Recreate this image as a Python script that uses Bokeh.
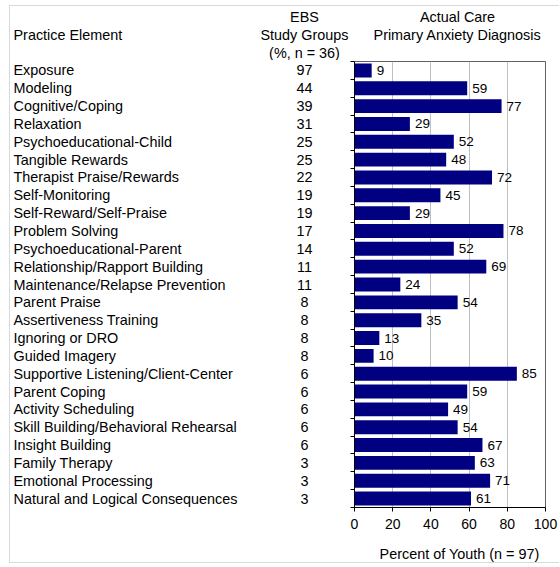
from bokeh.plotting import figure
from bokeh.models import ColumnDataSource, Range1d, FixedTicker
from bokeh.layouts import column, row
from bokeh.embed import file_html
from bokeh.resources import INLINE
from bokeh.core.properties import value

elements = [
    "Exposure", "Modeling", "Cognitive/Coping", "Relaxation",
    "Psychoeducational-Child", "Tangible Rewards", "Therapist Praise/Rewards",
    "Self-Monitoring", "Self-Reward/Self-Praise", "Problem Solving",
    "Psychoeducational-Parent", "Relationship/Rapport Building",
    "Maintenance/Relapse Prevention", "Parent Praise", "Assertiveness Training",
    "Ignoring or DRO", "Guided Imagery", "Supportive Listening/Client-Center",
    "Parent Coping", "Activity Scheduling", "Skill Building/Behavioral Rehearsal",
    "Insight Building", "Family Therapy", "Emotional Processing",
    "Natural and Logical Consequences",
]
ebs_pct = [97, 44, 39, 31, 25, 25, 22, 19, 19, 17, 14, 11, 11, 8, 8, 8, 8,
           6, 6, 6, 6, 6, 3, 3, 3]
actual_pct = [9, 59, 77, 29, 52, 48, 72, 45, 29, 78, 52, 69, 24, 54, 35, 13, 10,
              85, 59, 49, 54, 67, 63, 71, 61]
x_ticks = [0, 20, 40, 60, 80, 100]

FONT = "Liberation Sans"
FS = "14.4px"
n = len(elements)
rows = list(range(n))

src = ColumnDataSource(dict(
    row=rows,
    element=elements,
    ebs=[str(v) for v in ebs_pct],
    actual=actual_pct,
    actual_lbl=[str(v) for v in actual_pct],
))

y_rng = Range1d(n - 0.5, -0.5)


def blank(fig):
    fig.grid.grid_line_color = None
    fig.outline_line_color = None
    fig.background_fill_color = "#ffffff"
    fig.border_fill_color = "#ffffff"
    return fig


# ---- header ----
hdr = blank(figure(width=549, height=54, output_backend="svg", toolbar_location=None,
                   title=None, x_range=Range1d(0, 549), y_range=Range1d(54, 0),
                   x_axis_type=None, y_axis_type=None,
                   min_border_left=0, min_border_right=0, min_border_top=0,
                   min_border_bottom=0))
hdr_src = ColumnDataSource(dict(
    x=[3, 294, 294, 294, 447, 447],
    y=[28, 10, 28, 46, 10, 28],
    t=["Practice Element", "EBS", "Study Groups", "(%, n = 36)",
       "Actual Care", "Primary Anxiety Diagnosis"],
    a=["left", "center", "center", "center", "center", "center"],
))
hdr.text(x="x", y="y", text="t", text_align="a", source=hdr_src,
         text_baseline="middle", text_font=value(FONT), text_font_size=FS,
         text_color="#000000")

# ---- table (left) ----
tbl = blank(figure(width=334, height=480, output_backend="svg", toolbar_location=None,
                   title=None, x_range=Range1d(0, 334), y_range=y_rng,
                   x_axis_type=None, y_axis_type=None,
                   min_border_left=0, min_border_right=0, min_border_top=1,
                   min_border_bottom=33))
tbl.text(x=3, y="row", text="element", source=src, text_align="left",
         text_baseline="middle", text_font=value(FONT), text_font_size=FS,
         text_color="#000000")
tbl.text(x=294, y="row", text="ebs", source=src, text_align="center",
         text_baseline="middle", text_font=value(FONT), text_font_size=FS,
         text_color="#000000")

# ---- bars ----
p = figure(width=215, height=480, output_backend="svg", toolbar_location=None,
           title=None, x_range=Range1d(0, 100), y_range=y_rng,
           min_border_left=10, min_border_right=14, min_border_top=1,
           min_border_bottom=33)
p.hbar(y="row", right="actual", left=0, height=0.78, source=src,
       fill_color="#000080", line_color=None)
p.text(x="actual", y="row", text="actual_lbl", source=src, x_offset=5,
       text_baseline="middle", text_align="left",
       text_font=value(FONT), text_font_size="13.5px", text_color="#000000")

p.xaxis.ticker = FixedTicker(ticks=x_ticks)
p.xaxis.major_label_text_font = FONT
p.xaxis.major_label_text_font_size = "14px"
p.xaxis.major_label_text_color = "#000000"
p.xaxis.major_label_standoff = 7
p.xaxis.axis_line_color = "#000000"
p.xaxis.major_tick_line_color = "#000000"
p.xaxis.major_tick_out = 4
p.xaxis.major_tick_in = 0
p.xaxis.minor_tick_line_color = None

y_bounds = [r - 0.5 for r in rows] + [n - 0.5]
p.yaxis.ticker = FixedTicker(ticks=y_bounds)
p.yaxis.major_label_overrides = {b: "" for b in y_bounds}
p.yaxis.major_label_standoff = 0
p.yaxis.axis_line_color = "#000000"
p.yaxis.major_tick_line_color = "#000000"
p.yaxis.major_tick_out = 4
p.yaxis.major_tick_in = 0
p.yaxis.minor_tick_line_color = None

p.xgrid.ticker = FixedTicker(ticks=x_ticks)
p.xgrid.grid_line_color = "#c0c0c0"
p.ygrid.grid_line_color = None
p.outline_line_color = "#606060"
p.outline_line_width = 1
p.background_fill_color = "#ffffff"
p.border_fill_color = "#ffffff"

# ---- footer ----
ftr = blank(figure(width=549, height=22, output_backend="svg", toolbar_location=None,
                   title=None, x_range=Range1d(0, 549), y_range=Range1d(22, 0),
                   x_axis_type=None, y_axis_type=None,
                   min_border_left=0, min_border_right=0, min_border_top=0,
                   min_border_bottom=0))
ftr.text(x=[449], y=[13], text=["Percent of Youth (n = 97)"], text_align="center",
         text_baseline="middle", text_font=value(FONT), text_font_size=FS,
         text_color="#000000")

layout = column(hdr, row(tbl, p, spacing=0), ftr, spacing=0,
                margin=(5, 0, 0, 9),
                styles={"border": "1px solid #d9d9d9", "border-right": "none"})

open("out.html", "w").write(file_html(layout, INLINE))
